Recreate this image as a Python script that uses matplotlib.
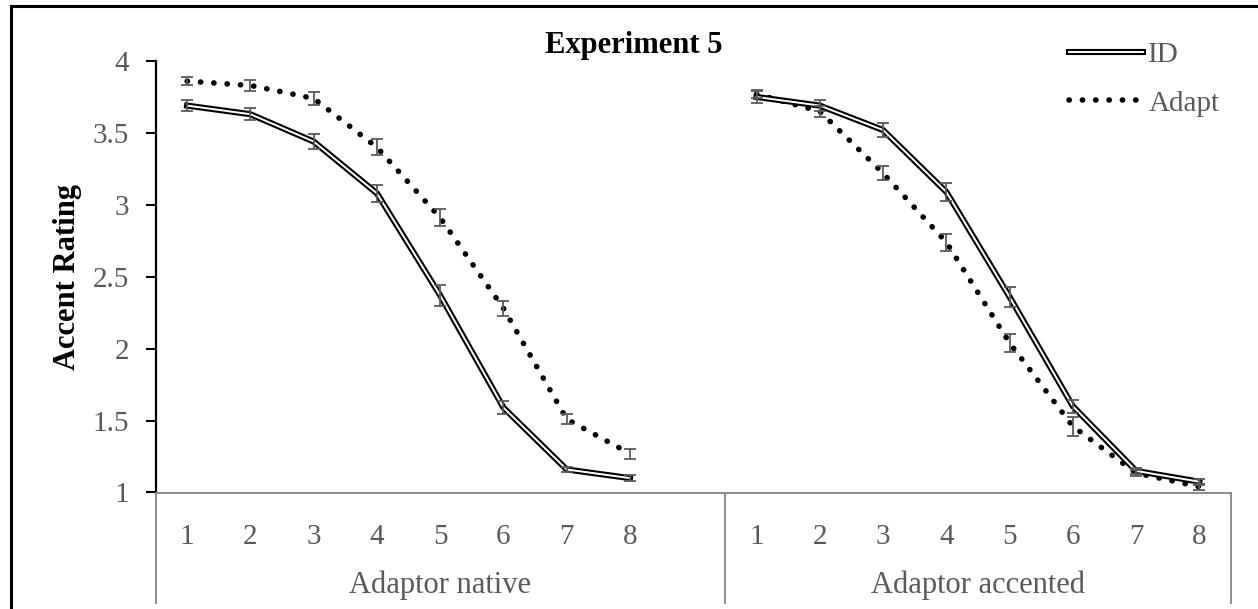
import numpy as np
import matplotlib
matplotlib.use("Agg")
import matplotlib.pyplot as plt
from matplotlib.lines import Line2D

plt.rcParams["font.family"] = ["Liberation Serif", "DejaVu Serif"]

# values (mean accent rating, +/- error)
steps = ["1", "2", "3", "4", "5", "6", "7", "8"]
groups = ["Adaptor native", "Adaptor accented"]
series_names = ["ID", "Adapt"]

native_id = [3.69, 3.63, 3.44, 3.08, 2.37, 1.59, 1.16, 1.10]
native_id_err = [0.04, 0.04, 0.05, 0.06, 0.07, 0.045, 0.02, 0.02]
native_adapt = [3.86, 3.83, 3.74, 3.40, 2.91, 2.28, 1.51, 1.27]
native_adapt_err = [0.03, 0.04, 0.045, 0.055, 0.06, 0.05, 0.035, 0.035]

accented_id = [3.75, 3.69, 3.52, 3.09, 2.36, 1.60, 1.15, 1.075]
accented_id_err = [0.04, 0.04, 0.05, 0.065, 0.07, 0.045, 0.02, 0.02]
accented_adapt = [3.77, 3.65, 3.22, 2.74, 2.04, 1.46, 1.135, 1.04]
accented_adapt_err = [0.03, 0.04, 0.05, 0.06, 0.06, 0.065, 0.02, 0.02]

y_ticks = [1, 1.5, 2, 2.5, 3, 3.5, 4]
y_tick_labels = ["1", "1.5", "2", "2.5", "3", "3.5", "4"]

GREY_TXT = "#595959"
GREY_AX = "#8a8a8a"
DOTS = (0, (0.05, 2.35))
W, H = 1258, 609

fig = plt.figure(figsize=(W / 100, H / 100), dpi=100)
ax = fig.add_axes([155.5 / W, (H - 492.5) / H, (1231 - 155.5) / W, (492.5 - 61) / H])

# two groups of 8 steps with an empty category between them (Excel style)
x_native = np.arange(len(steps))
x_accented = np.arange(len(steps)) + len(steps) + 1


def double_line(x, y):
    ax.plot(x, y, color="black", lw=4.4, solid_joinstyle="miter", zorder=2)
    ax.plot(x, y, color="white", lw=1.4, solid_joinstyle="miter", zorder=2.1)


def dotted_line(x, y):
    ax.plot(x, y, color="black", lw=4.0, linestyle=DOTS,
            dash_capstyle="round", zorder=2)


def err(x, y, e):
    ax.errorbar(x, y, yerr=e, fmt="none", ecolor="#595959", elinewidth=1.3,
                capsize=4, capthick=1.3, zorder=3)


for x, idv, ide, adv, ade in [
    (x_native, native_id, native_id_err, native_adapt, native_adapt_err),
    (x_accented, accented_id, accented_id_err, accented_adapt, accented_adapt_err),
]:
    dotted_line(x, adv)
    double_line(x, idv)
    err(x, adv, ade)
    err(x, idv, ide)

ax.set_ylim(1, 4)
ax.set_xlim(-0.5, x_accented[-1] + 0.5)
ax.set_yticks(y_ticks)
ax.set_yticklabels(y_tick_labels)
ax.set_xticks(np.concatenate([x_native, x_accented]))
ax.set_xticklabels(steps + steps)

ax.tick_params(axis="y", direction="out", length=7, width=1.5, color="black",
               labelsize=21, labelcolor=GREY_TXT, pad=12)
ax.tick_params(axis="x", length=0, labelsize=21, labelcolor=GREY_TXT, pad=23)

for side in ["top", "right"]:
    ax.spines[side].set_visible(False)
ax.spines["left"].set_color("black")
ax.spines["left"].set_linewidth(1.6)
ax.spines["bottom"].set_color(GREY_AX)
ax.spines["bottom"].set_linewidth(1.4)

# group dividers below the axis
trans = ax.get_xaxis_transform()
below = -(603 - 492.5) / (492.5 - 61)
for xd in [-0.5, x_native[-1] + 1.5, x_accented[-1] + 0.5]:
    ax.plot([xd, xd], [0, below], transform=trans, color=GREY_AX, lw=1.4,
            clip_on=False)

group_centers = [(-0.5 + x_native[-1] + 1.5) / 2, (x_native[-1] + 1.5 + x_accented[-1] + 0.5) / 2]
for xc, name in zip(group_centers, groups):
    ax.annotate(name, xy=(xc, 0), xycoords=trans, xytext=(0, -(585 - 492.5) * 0.72),
                textcoords="offset points", ha="center", va="center",
                fontsize=22, color=GREY_TXT)

fig.text(634 / W, 1 - 46 / H, "Experiment 5", ha="center", va="center",
         fontsize=22, fontweight="bold", color="black")
fig.text(67 / W, 1 - 277 / H, "Accent Rating", ha="center", va="center",
         rotation=90, fontsize=22, fontweight="bold", color="black")

h_black = Line2D([], [], color="black", lw=4.4)
h_white = Line2D([], [], color="white", lw=1.4)
h_dots = Line2D([], [], color="black", lw=4.0, linestyle=DOTS,
                dash_capstyle="round")
fig.legend(handles=[(h_black, h_white), h_dots], labels=series_names,
           loc="upper left", bbox_to_anchor=(1069 / W, 1 - 42 / H),
           frameon=False, fontsize=21, labelcolor=GREY_TXT, handlelength=2.55,
           handletextpad=0.17, borderpad=0, borderaxespad=0, labelspacing=0.75)

# outer chart frame (only the top and left edges are inside the picture)
fig.add_artist(Line2D([10.5 / W, 10.5 / W], [0, 1 - 6 / H], color="black", lw=2.2,
                      transform=fig.transFigure))
fig.add_artist(Line2D([10.5 / W, 1], [1 - 6 / H, 1 - 6 / H], color="black", lw=2.2,
                      transform=fig.transFigure))

fig.savefig("out.png", dpi=100)
